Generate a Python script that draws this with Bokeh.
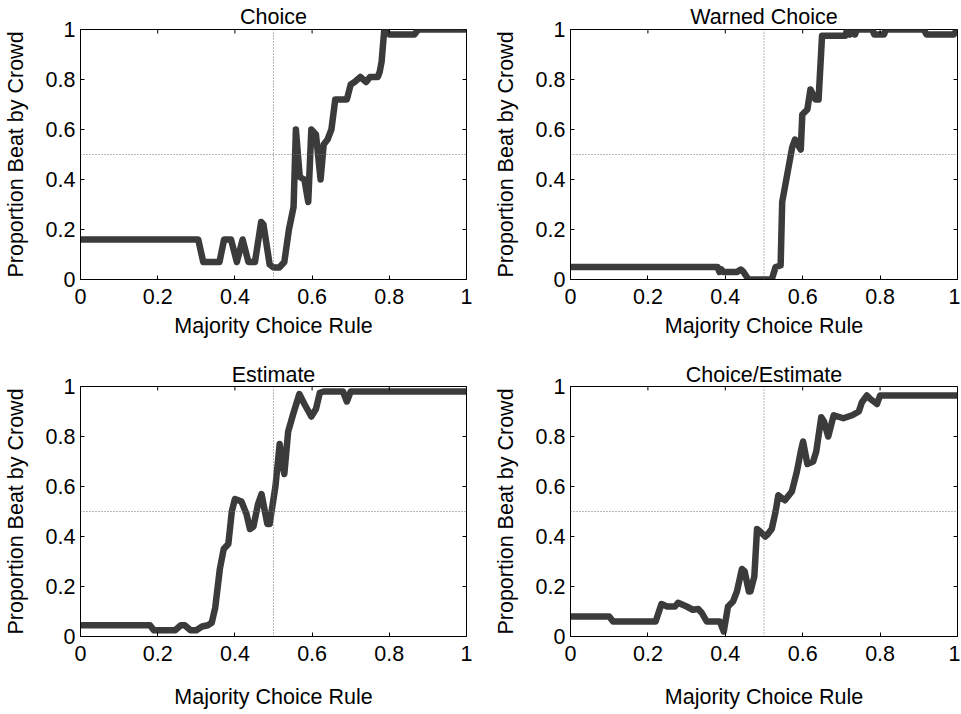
import math
from bokeh.plotting import figure
from bokeh.models import Range1d, FixedTicker, Span
from bokeh.layouts import column, row
from bokeh.embed import file_html
from bokeh.resources import INLINE

TITLES = ["Choice", "Warned Choice", "Estimate", "Choice/Estimate"]
X_LABEL = "Majority Choice Rule"
Y_LABEL = "Proportion Beat by Crowd"
TICKS = [0, 0.2, 0.4, 0.6, 0.8, 1.0]
TICK_LABELS = ["0", "0.2", "0.4", "0.6", "0.8", "1"]
AX_MIN, AX_MAX = 0.0, 1.0
CHANCE = 0.5

CHOICE_X = [0, 0.305, 0.318, 0.36, 0.372, 0.39, 0.405, 0.42, 0.435, 0.452, 0.468,
            0.474, 0.49, 0.50, 0.515, 0.528, 0.54, 0.552, 0.558, 0.568, 0.58, 0.59,
            0.598, 0.61, 0.622, 0.63, 0.64, 0.65, 0.66, 0.69, 0.70, 0.71, 0.725, 0.74,
            0.75, 0.77, 0.775, 0.78, 0.787, 0.80, 0.865, 0.875, 1.0]
CHOICE_Y = [0.16, 0.16, 0.07, 0.07, 0.16, 0.16, 0.07, 0.16, 0.07, 0.07, 0.23,
            0.22, 0.06, 0.048, 0.048, 0.07, 0.20, 0.29, 0.60, 0.41, 0.40, 0.31,
            0.60, 0.58, 0.40, 0.54, 0.56, 0.60, 0.72, 0.72, 0.78, 0.79, 0.81, 0.79,
            0.81, 0.81, 0.83, 0.87, 1.0, 0.98, 0.98, 1.0, 1.0]

WARNED_X = [0, 0.38, 0.385, 0.39, 0.395, 0.40, 0.43, 0.44, 0.447, 0.46, 0.52, 0.53,
            0.543, 0.547, 0.56, 0.573, 0.58, 0.595, 0.599, 0.612, 0.62, 0.633, 0.641,
            0.65, 0.71, 0.715, 0.722, 0.73, 0.735, 0.74, 0.78, 0.785, 0.81, 0.815,
            0.913, 0.92, 0.99, 1.0]
WARNED_Y = [0.05, 0.05, 0.03, 0.04, 0.03, 0.03, 0.03, 0.04, 0.03, 0.0, 0.0, 0.05,
            0.056, 0.31, 0.42, 0.53, 0.56, 0.52, 0.66, 0.68, 0.76, 0.72, 0.72,
            0.975, 0.975, 1.0, 0.98, 1.0, 0.98, 1.0, 1.0, 0.98, 0.98, 1.0,
            1.0, 0.98, 0.98, 1.0]

EST_X = [0, 0.18, 0.19, 0.245, 0.26, 0.27, 0.285, 0.30, 0.315, 0.33, 0.34, 0.349,
         0.361, 0.371, 0.383, 0.392, 0.40, 0.417, 0.43, 0.439, 0.448, 0.46, 0.469,
         0.484, 0.49, 0.505, 0.516, 0.522, 0.528, 0.538, 0.551, 0.567, 0.58, 0.598,
         0.61, 0.62, 0.63, 0.68, 0.69, 0.70, 1.0]
EST_Y = [0.045, 0.045, 0.025, 0.025, 0.045, 0.045, 0.025, 0.025, 0.04, 0.045, 0.055,
         0.115, 0.27, 0.35, 0.37, 0.50, 0.55, 0.54, 0.49, 0.43, 0.44, 0.53, 0.57,
         0.45, 0.45, 0.60, 0.77, 0.70, 0.65, 0.82, 0.89, 0.97, 0.93, 0.88,
         0.91, 0.975, 0.98, 0.98, 0.94, 0.98, 0.98]

CE_X = [0, 0.10, 0.11, 0.22, 0.235, 0.25, 0.27, 0.278, 0.30, 0.316, 0.33, 0.339,
        0.352, 0.36, 0.386, 0.396, 0.407, 0.42, 0.43, 0.443, 0.45, 0.461, 0.465,
        0.475, 0.482, 0.49, 0.503, 0.51, 0.52, 0.53, 0.537, 0.554, 0.572, 0.585,
        0.595, 0.601, 0.612, 0.627, 0.635, 0.648, 0.655, 0.666, 0.68, 0.705, 0.728,
        0.745, 0.753, 0.766, 0.775, 0.792, 0.80, 1.0]
CE_Y = [0.08, 0.08, 0.06, 0.06, 0.13, 0.12, 0.12, 0.135, 0.12, 0.107, 0.11, 0.095,
        0.06, 0.06, 0.06, 0.02, 0.12, 0.14, 0.18, 0.27, 0.26, 0.18, 0.18,
        0.24, 0.43, 0.42, 0.40, 0.41, 0.43, 0.50, 0.565, 0.545, 0.58, 0.66,
        0.74, 0.78, 0.69, 0.70, 0.74, 0.877, 0.86, 0.80, 0.885, 0.873, 0.885,
        0.90, 0.937, 0.964, 0.95, 0.93, 0.964, 0.964]

SERIES = [(CHOICE_X, CHOICE_Y), (WARNED_X, WARNED_Y), (EST_X, EST_Y), (CE_X, CE_Y)]

FONT = "Liberation Sans"
FS = "21.5px"
LINE_COLOR = "#3b3b3b"


def panel(title, xs, ys, width, height, bl, br, bt, bb, title_standoff, xl_standoff):
    p = figure(width=width, height=height, x_range=Range1d(AX_MIN, AX_MAX),
               y_range=Range1d(AX_MIN, AX_MAX), title=title,
               output_backend="svg", toolbar_location=None, tools="",
               min_border_left=bl, min_border_right=br, min_border_top=bt,
               min_border_bottom=bb)
    p.title.align = "center"
    p.title.text_font = FONT
    p.title.text_font_size = FS
    p.title.text_font_style = "normal"
    p.title.text_color = "black"
    p.title.standoff = title_standoff
    p.title.offset = 0
    p.grid.visible = False
    p.outline_line_color = "black"
    p.outline_line_width = 1
    p.background_fill_color = "white"
    p.border_fill_color = "white"
    overrides = {t: l for t, l in zip(TICKS, TICK_LABELS)}
    xa = p.below[0]
    ya = p.left[0]
    for ax in (xa, ya):
        ax.ticker = FixedTicker(ticks=TICKS)
        ax.major_label_overrides = overrides
        ax.major_tick_in = 4
        ax.major_tick_out = 0
        ax.minor_tick_in = 0
        ax.minor_tick_out = 0
        ax.axis_line_color = "black"
        ax.major_tick_line_color = "black"
        ax.major_label_text_font = FONT
        ax.major_label_text_font_size = FS
        ax.major_label_text_color = "black"
        ax.axis_label_text_font = FONT
        ax.axis_label_text_font_size = FS
        ax.axis_label_text_font_style = "normal"
        ax.axis_label_text_color = "black"
    xa.major_label_standoff = 9
    ya.major_label_standoff = 5
    xa.axis_label = X_LABEL
    ya.axis_label = Y_LABEL
    xa.axis_label_standoff = xl_standoff
    ya.axis_label_standoff = 15

    p.add_layout(Span(location=CHANCE, dimension="height", line_color="#707070",
                      line_width=1, line_dash="1 2"))
    p.add_layout(Span(location=CHANCE, dimension="width", line_color="#707070",
                      line_width=1, line_dash="1 2"))
    p.line(xs, ys, line_width=6.5, line_color=LINE_COLOR, line_join="round")
    # inward ticks on the top and right edges of the box
    p.scatter(TICKS, [AX_MAX] * len(TICKS), marker="dash", angle=math.pi / 2, size=8,
              line_color="black", line_width=1)
    p.scatter([AX_MAX] * len(TICKS), TICKS, marker="dash", size=8,
              line_color="black", line_width=1)
    return p


p1 = panel(TITLES[0], *SERIES[0], 480, 360, 78, 14, 29, 81, 1, 7)
p2 = panel(TITLES[1], *SERIES[1], 480, 360, 90, 3, 29, 81, 1, 7)
p3 = panel(TITLES[2], *SERIES[2], 480, 351, 78, 14, 26, 74, 0, 21)
p4 = panel(TITLES[3], *SERIES[3], 480, 351, 90, 3, 26, 74, 0, 21)

layout = column(row(p1, p2), row(p3, p4))
open("out.html", "w").write(file_html(layout, INLINE))
